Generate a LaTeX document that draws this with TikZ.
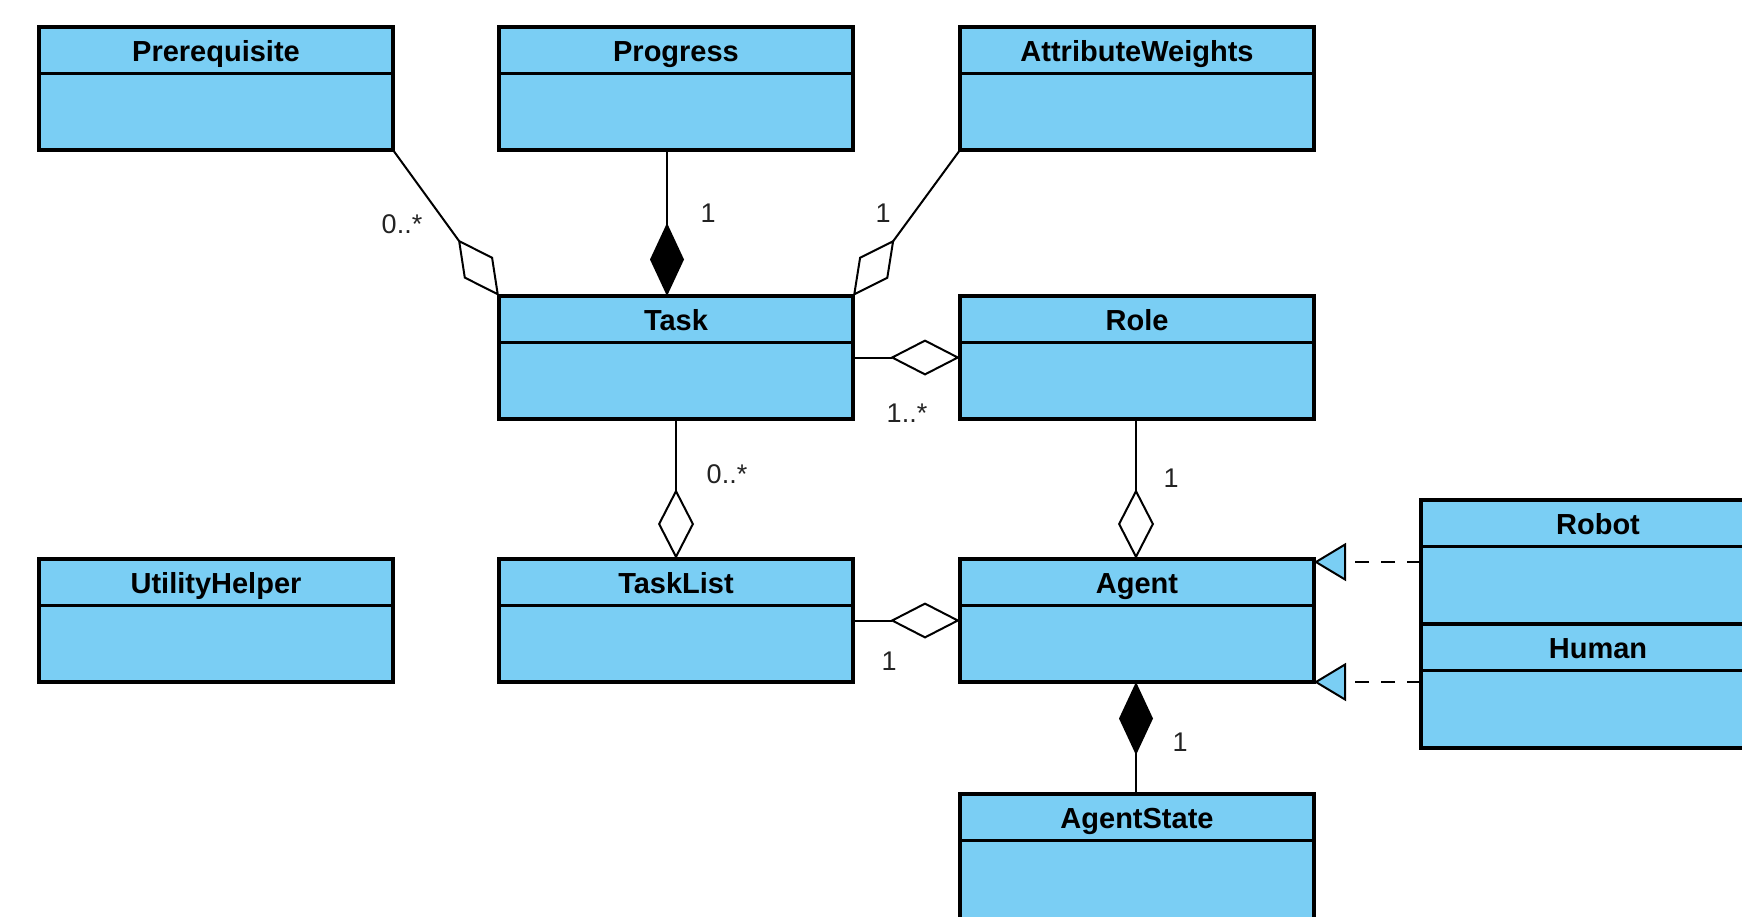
\documentclass[tikz,border=0pt]{standalone}
\usepackage{fontspec}
\setmainfont{Liberation Sans}
\usetikzlibrary{arrows.meta}
\definecolor{clsblue}{RGB}{122,206,244}
\definecolor{multgray}{RGB}{35,35,35}

% class box: name, left, top, title, height
\newcommand{\umlclass}[5]{%
  \node[clsbox, minimum height=#5pt, anchor=north west] (#1) at (#2,#3) {};
  \draw[clsrule] ([yshift=-46.5pt]#1.north west) -- ([yshift=-46.5pt]#1.north east);
  \node[clstitle, anchor=base] (#1-title) at ([yshift=-34pt]#1.north) {#4};
}

\begin{document}
\begin{tikzpicture}[x=1pt,y=-1pt,
  clsbox/.style={rectangle, draw=black, line width=3.2pt, fill=clsblue,
    inner sep=0pt, outer sep=0pt, minimum width=354pt},
  clsrule/.style={draw=black, line width=3pt},
  clstitle/.style={font=\fontsize{29}{34}\selectfont\bfseries, inner sep=0pt},
  mult/.style={font=\fontsize{27}{32}\selectfont, text=multgray, inner sep=0pt},
  link/.style={draw=black, line width=2pt},
  aggr/.style={link, -{Diamond[length=70pt,width=36pt,fill=white,line width=2pt]}},
  comp/.style={link, -{Diamond[length=73pt,width=34pt,fill=black,line width=2pt]}},
  realize/.style={draw=black, line width=2.2pt, dash pattern=on 14pt off 12pt,
    -{Triangle[length=32pt,width=38pt,fill=clsblue,line width=2pt]}},
]
\useasboundingbox (0,0) rectangle (1742,916);

% classes
\umlclass{prereq}{39}{27}{Prerequisite}{123}
\umlclass{progress}{499}{27}{Progress}{123}
\umlclass{attrw}{960}{27}{AttributeWeights}{123}
\umlclass{task}{499}{296}{Task}{123}
\umlclass{role}{960}{296}{Role}{123}
\umlclass{util}{39}{559}{UtilityHelper}{123}
\umlclass{tasklist}{499}{559}{TaskList}{123}
\umlclass{agent}{960}{559}{Agent}{123}
\umlclass{robot}{1421}{500}{Robot}{124}
\umlclass{human}{1421}{624}{Human}{124}
\umlclass{agentstate}{960}{794}{AgentState}{140}

% associations
\draw[aggr] (prereq.south east) -- (task.north west);
\draw[comp] ([xshift=-9pt]progress.south) -- ([xshift=-9pt]task.north);
\draw[aggr] (attrw.south west) -- (task.north east);
\draw[aggr] (task.east) -- (role.west);
\draw[aggr] (task.south) -- (tasklist.north);
\draw[aggr] ([xshift=-1pt]role.south) -- ([xshift=-1pt]agent.north);
\draw[aggr] (tasklist.east) -- (agent.west);
\draw[comp] ([xshift=-1pt]agentstate.north) -- ([xshift=-1pt]agent.south);

% realizations
\draw[realize] (robot.west) -- (robot.west -| agent.east);
\draw[realize] (human.west |- agent.south east) -- (agent.south east);

% multiplicities
\node[mult] (m-prereq) at (402,224) {0..*};
\node[mult] (m-progress) at (708,213) {1};
\node[mult] (m-attrw) at (883,213) {1};
\node[mult] (m-role) at (907,413) {1..*};
\node[mult] (m-tasklist) at (727,474) {0..*};
\node[mult] (m-agentrole) at (1171,478) {1};
\node[mult] (m-agentlist) at (889,661) {1};
\node[mult] (m-state) at (1180,742) {1};
\end{tikzpicture}
\end{document}
